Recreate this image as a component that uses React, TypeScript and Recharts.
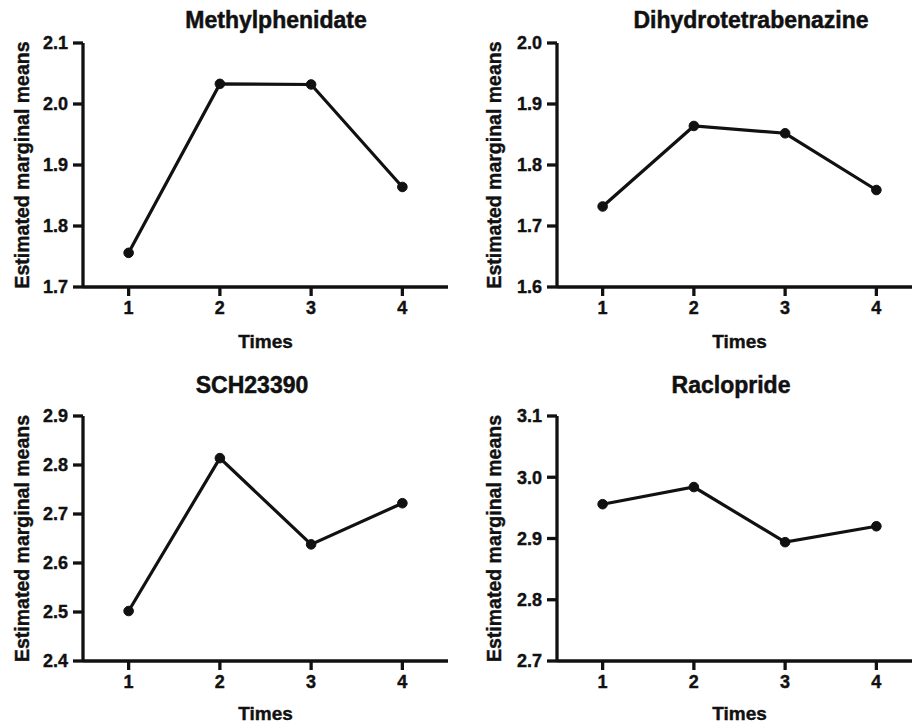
import React from 'react';
import { LineChart, Line, XAxis, YAxis } from 'recharts';

const times = [1, 2, 3, 4];
const timeTicks = [1, 2, 3, 4];

const methylphenidate = [1.756, 2.033, 2.032, 1.864];
const dihydrotetrabenazine = [1.732, 1.864, 1.852, 1.759];
const sch23390 = [2.502, 2.814, 2.638, 2.722];
const raclopride = [2.956, 2.984, 2.894, 2.92];

const methylTicks = [1.7, 1.8, 1.9, 2.0, 2.1];
const dtbzTicks = [1.6, 1.7, 1.8, 1.9, 2.0];
const schTicks = [2.4, 2.5, 2.6, 2.7, 2.8, 2.9];
const raclTicks = [2.7, 2.8, 2.9, 3.0, 3.1];

const font = '"Liberation Sans", Arial, Helvetica, sans-serif';
const ink = '#111';

// slight outline on text so it reads as heavy as the original's bold
const textStyle = (size: number) => ({
  fill: ink,
  fontSize: size,
  fontWeight: 'bold' as const,
  fontFamily: font,
  stroke: ink,
  strokeWidth: 0.4,
});

type PanelProps = {
  title: string;
  values: number[];
  yTicks: number[];
  left: number;
  top: number;
  width: number;
  height: number;
  marginTop: number;
  yAxisWidth: number;
  xAxisHeight: number;
  labelOffset: number;
  timesOffset: number;
  titleX: number;
  titleY: number;
};

const Panel: React.FC<PanelProps> = (p) => {
  const data = times.map((t, i) => ({ time: t, value: p.values[i] }));
  const axisStyle = { stroke: ink, strokeWidth: 3.3 };
  return (
    <div style={{ position: 'absolute', left: p.left, top: p.top, width: p.width, height: p.height }}>
      <div
        style={{
          position: 'absolute',
          left: p.titleX - 200,
          width: 400,
          top: p.titleY - 14,
          lineHeight: '28px',
          textAlign: 'center',
          fontFamily: font,
          fontWeight: 'bold',
          fontSize: 23,
          color: ink,
          WebkitTextStroke: '0.5px #111',
        }}
      >
        {p.title}
      </div>
      <LineChart
        width={p.width}
        height={p.height}
        data={data}
        margin={{ top: p.marginTop, right: 0, bottom: 0, left: 0 }}
      >
        <XAxis
          dataKey="time"
          type="number"
          domain={[0.5, 4.5]}
          ticks={timeTicks}
          height={p.xAxisHeight}
          axisLine={axisStyle}
          tickLine={axisStyle}
          tickSize={9}
          tickMargin={5}
          tick={textStyle(18)}
          label={{
            value: 'Times',
            position: 'insideBottom',
            offset: p.timesOffset,
            style: textStyle(19),
          }}
        />
        <YAxis
          type="number"
          domain={[p.yTicks[0], p.yTicks[p.yTicks.length - 1]]}
          ticks={p.yTicks}
          interval={0}
          width={p.yAxisWidth}
          axisLine={axisStyle}
          tickLine={axisStyle}
          tickSize={10}
          tickMargin={5}
          tickFormatter={(v: number) => v.toFixed(1)}
          tick={textStyle(18)}
          label={{
            value: 'Estimated marginal means',
            angle: -90,
            position: 'insideLeft',
            offset: p.labelOffset,
            style: { ...textStyle(19.5), textAnchor: 'middle' },
          }}
        />
        <Line
          type="linear"
          dataKey="value"
          stroke={ink}
          strokeWidth={3.2}
          dot={{ r: 4.8, fill: ink, stroke: ink, strokeWidth: 1 }}
          activeDot={false}
          isAnimationActive={false}
        />
      </LineChart>
    </div>
  );
};

const App: React.FC = () => {
  return (
    <div
      style={{
        position: 'absolute',
        left: 0,
        top: 0,
        width: 912,
        height: 724,
        overflow: 'hidden',
        background: '#fff',
      }}
    >
      <Panel
        title="Methylphenidate"
        values={methylphenidate}
        yTicks={methylTicks}
        left={0}
        top={0}
        width={448}
        height={362}
        marginTop={43}
        yAxisWidth={83}
        xAxisHeight={75}
        labelOffset={22}
        timesOffset={14}
        titleX={276}
        titleY={20}
      />
      <Panel
        title="Dihydrotetrabenazine"
        values={dihydrotetrabenazine}
        yTicks={dtbzTicks}
        left={456}
        top={0}
        width={466}
        height={362}
        marginTop={43}
        yAxisWidth={101}
        xAxisHeight={75}
        labelOffset={38}
        timesOffset={14}
        titleX={295}
        titleY={20}
      />
      <Panel
        title="SCH23390"
        values={sch23390}
        yTicks={schTicks}
        left={0}
        top={362}
        width={448}
        height={362}
        marginTop={54}
        yAxisWidth={83}
        xAxisHeight={63}
        labelOffset={22}
        timesOffset={4}
        titleX={252}
        titleY={23}
      />
      <Panel
        title="Raclopride"
        values={raclopride}
        yTicks={raclTicks}
        left={456}
        top={362}
        width={466}
        height={362}
        marginTop={54}
        yAxisWidth={101}
        xAxisHeight={63}
        labelOffset={38}
        timesOffset={4}
        titleX={275}
        titleY={23}
      />
    </div>
  );
};

export default App;
